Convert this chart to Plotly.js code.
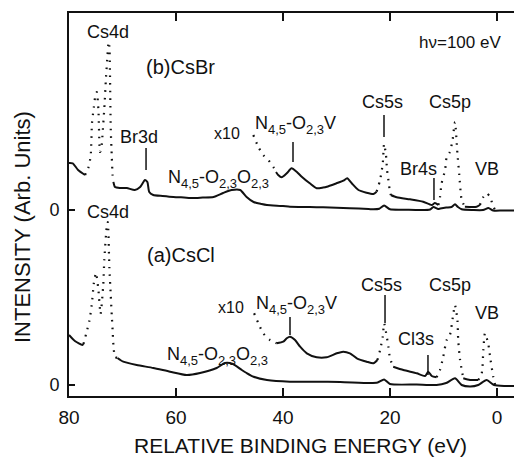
<!DOCTYPE html>
<html>
<head>
<meta charset="utf-8">
<script src="https://cdn.plot.ly/plotly-3.0.1.min.js"></script>
<style>html,body{margin:0;padding:0;background:#fff;}#chart{width:514px;height:458px;}</style>
</head>
<body>
<div id="chart"></div>
<script>
// ---------------- data ----------------
// Relative binding energy (eV) and intensity (arb. units) of each recorded trace.
// (b) CsBr, full-scale trace
const csbr1xE = [80, 79.3, 78.3, 77.0, 76.4, 75.95, 75.7, 75.35, 75.05, 74.8, 74.5, 74.2, 73.95, 73.7, 73.35, 73.1, 72.8, 72.6, 72.45, 72.35, 72.2, 72.0, 71.85, 71.7, 71.4, 70.5, 69.2, 67.7, 66.7, 65.8, 65.35, 65.0, 64.25, 62.5, 60.5, 58.5, 56.8, 55.0, 53.0, 51.2, 49.6, 48.0, 46.8, 45.5, 44.0, 43.0, 40.0, 38.7, 35.0, 32.5, 27.5, 24.0, 23.1, 22.0, 21.1, 20.0, 17.0, 14.4, 12.5, 11.9, 11.0, 10.6, 9.5, 8.5, 7.85, 7.3, 6.6, 4.5, 2.6, 1.6, 0.7, -1.0, -3.2];
const csbr1xI = [47, 46.7, 40, 35, 42, 54, 87, 103, 115, 118, 100, 58, 62, 78, 106, 131, 155, 168, 164, 140, 82, 53, 35, 28, 23, 22, 22, 20, 23, 30, 28, 18, 15, 14, 13, 12.5, 12, 12.5, 13, 17, 20, 20, 13, 8, 6, 5, 4, 3.3, 3, 2.7, 1.7, 1, 0.7, 1.3, 4.5, 0.7, 0.3, 0, 0.5, 3, 1, 1.5, 2.5, 3, 5.7, 3, 0.7, 0, 0, 2, -0.5, -0.5, -0.5];
const csbr1xDotted = [[77.0, 71.7]];
// (b) CsBr, x10 trace
const csbrX10E = [45.55, 44.6, 43.7, 42.75, 41.8, 41.3, 40.9, 40.25, 39.3, 38.4, 37.45, 36.5, 35.0, 33.7, 32.5, 31.8, 30.0, 28.7, 28.0, 27.15, 25.9, 24.4, 23.1, 22.5, 21.85, 21.35, 21.1, 20.75, 20.55, 20.3, 20.1, 19.85, 18.75, 16.25, 13.8, 12.2, 11.6, 10.95, 10.65, 10.35, 9.7, 9.4, 8.8, 8.3, 7.85, 7.4, 7.05, 6.6, 6.0, 3.8, 3.2, 2.55, 1.95, 1.3, 0.8, 0.35];
const csbrX10I = [75, 63, 55, 50, 43, 38, 35, 32.7, 36.7, 41.7, 38.3, 33.3, 26.7, 21.7, 22.5, 23.3, 26.7, 29.3, 31.7, 26.7, 20, 17.3, 16, 18.3, 30, 46.7, 66, 55, 40, 30, 21.7, 15, 12.7, 10.7, 8.3, 5, 7, 5, 13, 26.7, 40, 53, 58, 70, 88, 56.7, 35, 10, 3.3, 3.3, 5, 13, 16.7, 13.3, 5, 0];
const csbrX10Dotted = [[45.55, 41.3], [22.5, 19.85], [10.95, 6.0], [3.2, 0.35]];
// (a) CsCl, full-scale trace
const cscl1xE = [80, 78.9, 77.5, 77.3, 76.7, 76.2, 75.75, 75.35, 74.95, 74.5, 74.1, 73.6, 73.4, 72.95, 72.75, 72.45, 72.2, 72.0, 71.85, 71.7, 71.4, 70.95, 69.85, 67.35, 64.25, 61.1, 58.0, 55.5, 52.4, 50.85, 49.35, 47.7, 46.8, 45.5, 43.0, 38.7, 34.0, 29.3, 23.7, 22.3, 21.1, 20.0, 15.0, 11.3, 9.5, 7.85, 6.6, 5.0, 3.5, 1.95, 0.55, -1.5, -3.2];
const cscl1xI = [50, 44, 40, 41, 53, 64, 80, 102, 112, 95, 71, 100, 125, 158, 163, 117, 90, 69, 55, 40, 28, 27, 23.3, 20, 17, 13.3, 10, 12, 17, 22, 21, 15, 12, 8.3, 5, 3.3, 3.2, 3, 2, 2.5, 5.5, 1, 0.5, 0, 2, 6.7, 0, -1.5, 0, 5, 0, -1, -1];
const cscl1xDotted = [[77.3, 70.95]];
// (a) CsCl, x10 trace
const csclX10E = [45.4, 44.6, 43.7, 42.45, 41.2, 39.95, 39.3, 38.7, 37.75, 36.8, 35.55, 33.7, 31.85, 29.95, 28.75, 27.5, 26.2, 24.35, 23.1, 22.35, 21.85, 21.35, 21.1, 20.6, 20.3, 20.0, 19.4, 17.5, 15.0, 13.45, 12.85, 12.2, 11.3, 10.65, 10.05, 9.4, 8.8, 8.15, 7.85, 7.4, 7.25, 6.9, 6.3, 5.05, 3.5, 2.85, 2.55, 2.25, 1.65, 1.2, 0.7, 0.35];
const csclX10I = [71.7, 61.7, 51.7, 45, 41.7, 43.3, 46.7, 48.3, 45, 38.3, 31.7, 27.7, 27.7, 31.7, 33.3, 31.7, 26.7, 23.3, 21.7, 25, 35, 48.3, 61.7, 48.3, 38.3, 26.7, 18.3, 15, 11.7, 9, 13.3, 9, 7.7, 15, 28.3, 45, 50, 71.7, 80, 65, 45, 25, 6.7, 5, 5, 11.7, 35, 51.7, 41.7, 25, 8.3, 0];
const csclX10Dotted = [[45.4, 41.2], [22.35, 19.4], [11.3, 6.3], [3.5, 0.35]];

// vertical offset of the CsBr spectra
const csbrOffset = 175;
// axis ticks
const xTicks = [80, 60, 40, 20, 0];
const yTickVals = [0, csbrOffset];
const yTickText = ['0', '0'];

// ---------------- build ----------------
const FONT = 'Liberation Sans, Arial, Helvetica, sans-serif';
const X_RANGE = [80, -3.18];
const Y_RANGE = [-11, 372];
function within(e, ranges, strict) {
  return ranges.some(([a, b]) => strict ? (e < a - 1e-9 && e > b + 1e-9) : (e <= a + 1e-9 && e >= b - 1e-9));
}
function curve(E, I, dotted, off) {
  const solidY = I.map((v, i) => within(E[i], dotted, true) ? null : v + off);
  const dotY = I.map((v, i) => within(E[i], dotted, false) ? v + off : null);
  return [
    {x: E, y: solidY, type: 'scatter', mode: 'lines', connectgaps: false,
     line: {color: '#111', width: 2, shape: 'spline', smoothing: 0.6}, hoverinfo: 'skip'},
    {x: E, y: dotY, type: 'scatter', mode: 'lines', connectgaps: false,
     line: {color: '#111', width: 2.2, dash: '1.6px,6px', shape: 'spline', smoothing: 0.6}, hoverinfo: 'skip'}
  ];
}
const data = [].concat(
  curve(csbr1xE, csbr1xI, csbr1xDotted, csbrOffset),
  curve(csbrX10E, csbrX10I, csbrX10Dotted, csbrOffset),
  curve(cscl1xE, cscl1xI, cscl1xDotted, 0),
  curve(csclX10E, csclX10I, csclX10Dotted, 0)
);

// labels placed in paper coordinates converted from energy / height
function px(e) { return (X_RANGE[0] - e) / (X_RANGE[0] - X_RANGE[1]); }
function py(v) { return (v - Y_RANGE[0]) / (Y_RANGE[1] - Y_RANGE[0]); }
function lab(text, e, v, size) {
  return {text: text, x: px(e), y: py(v), xref: 'paper', yref: 'paper', showarrow: false,
    xanchor: 'center', yanchor: 'middle', font: {family: FONT, size: size, color: '#111'}};
}
// labels with subscripts are assembled from pieces, each measured with a canvas
const ctx = document.createElement('canvas').getContext('2d');
function textWidth(t, s) { ctx.font = s + 'px "Liberation Sans", Arial, sans-serif'; return ctx.measureText(t).width; }
const MAIN = 18, SUB = 13, SUBDROP = 6;
function rich(pieces, e, v) {
  const w = pieces.map(([t, sub]) => textWidth(t, sub ? SUB : MAIN));
  const total = w.reduce((a, b) => a + b, 0);
  let off = -total / 2;
  return pieces.map(([t, sub], i) => {
    const a = {text: t, x: px(e), y: py(v), xref: 'paper', yref: 'paper', showarrow: false,
      xanchor: 'center', yanchor: 'middle', xshift: off + w[i] / 2, yshift: sub ? -SUBDROP : 0,
      borderpad: 0, font: {family: FONT, size: sub ? SUB : MAIN, color: '#111'}};
    off += w[i];
    return a;
  });
}
const NOO = [['N', 0], ['4,5', 1], ['-O', 0], ['2,3', 1], ['O', 0], ['2,3', 1]];
const NOV = [['N', 0], ['4,5', 1], ['-O', 0], ['2,3', 1], ['V', 0]];
const annotations = [
  // (b) CsBr
  lab('Cs4d', 72.8, 353, 18),
  lab('(b)CsBr', 59.07, 318, 20),
  lab('h\u03BD=100 eV', 6.92, 342, 17),
  lab('Br3d', 66.92, 248, 18),
  lab('x10', 50.47, 252, 16),
  lab('Cs5s', 21.4, 283, 18),
  lab('Cs5p', 8.79, 283, 18),
  lab('Br4s', 14.67, 216, 18),
  lab('VB', 1.78, 216, 18),
  // (a) CsCl
  lab('Cs4d', 72.8, 173, 18),
  lab('(a)CsCl', 59.07, 130, 20),
  lab('x10', 49.72, 78, 16),
  lab('Cs5s', 21.68, 100, 18),
  lab('Cs5p', 8.79, 100, 18),
  lab('Cl3s', 15.23, 46, 18),
  lab('VB', 1.78, 72, 18),
  // axis titles
  {text: 'INTENSITY (Arb. Units)', xref: 'paper', yref: 'paper', x: (22 - 69) / 445, y: (396 - 227) / 383,
   textangle: -90, showarrow: false, xanchor: 'center', yanchor: 'middle',
   font: {family: FONT, size: 22, color: '#111'}},
  {text: 'RELATIVE BINDING ENERGY (eV)', xref: 'paper', yref: 'paper', x: (300 - 69) / 445, y: (396 - 445) / 383,
   showarrow: false, xanchor: 'center', yanchor: 'middle',
   font: {family: FONT, size: 21, color: '#111'}}
].concat(
  rich(NOO, 52.0, 208),
  rich(NOV, 37.6, 262),
  rich(NOO, 52.3, 31),
  rich(NOV, 37.4, 82)
);

function pointer(e, y0, y1) {
  return {type: 'line', xref: 'x', yref: 'y', x0: e, x1: e, y0: y0, y1: y1, line: {color: '#111', width: 1.5}};
}
const shapes = [
  pointer(65.6, 237, 215), pointer(38.13, 243, 223), pointer(21.12, 270, 248), pointer(11.78, 207, 185),
  pointer(38.69, 68, 50), pointer(20.93, 90, 62), pointer(12.9, 30, 10)
];

const layout = {
  width: 514, height: 458,
  margin: {l: 69, r: 0, t: 13, b: 62, pad: 0},
  paper_bgcolor: '#fff', plot_bgcolor: '#fff',
  showlegend: false,
  font: {family: FONT, color: '#111', size: 18},
  xaxis: {
    range: X_RANGE, tickvals: xTicks, ticktext: xTicks.map(String),
    ticks: 'inside', ticklen: 8, tickwidth: 2, tickcolor: '#111',
    showline: true, linewidth: 2, linecolor: '#111', mirror: 'ticks',
    showgrid: false, zeroline: false, tickfont: {family: FONT, size: 19, color: '#111'},
    ticklabelstandoff: 3
  },
  yaxis: {
    range: Y_RANGE, tickvals: yTickVals, ticktext: yTickText,
    ticks: 'inside', ticklen: 6, tickwidth: 2, tickcolor: '#111',
    showline: true, linewidth: 2, linecolor: '#111', mirror: false,
    showgrid: false, zeroline: false, tickfont: {family: FONT, size: 18, color: '#111'},
    ticklabelstandoff: 4
  },
  annotations: annotations,
  shapes: shapes
};
Plotly.newPlot('chart', data, layout, {staticPlot: true, displayModeBar: false});
</script>
</body>
</html>
